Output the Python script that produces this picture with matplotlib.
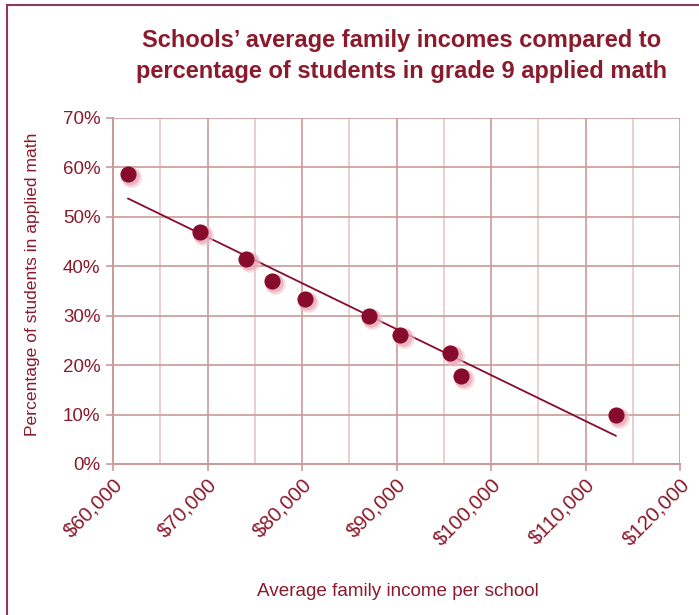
import matplotlib
matplotlib.use("Agg")
import matplotlib.pyplot as plt
from matplotlib.ticker import FuncFormatter, MultipleLocator
import numpy as np

income = [61600, 69200, 74100, 76800, 80300, 87100, 90400, 95700, 96800, 113200]
pct_applied = [58.7, 47.0, 41.5, 37.0, 33.4, 30.0, 26.1, 22.5, 17.8, 9.9]

title = "Schools\u2019 average family incomes compared to\npercentage of students in grade 9 applied math"
xlabel = "Average family income per school"
ylabel = "Percentage of students in applied math"

TXT = "#8a1a2c"
GRID = "#c99a9a"
GRID_MINOR = "#e6c8c8"
MARK = "#860b2c"

plt.rcParams['font.family'] = ['Liberation Sans', 'DejaVu Sans']

fig = plt.figure(figsize=(6.99, 6.15), dpi=100)
ax = fig.add_axes([113/699, 1-464/615, (680-113)/699, (464-118)/615])

ax.set_xlim(60000, 120000)
ax.set_ylim(0, 70)
ax.xaxis.set_major_locator(MultipleLocator(10000))
ax.xaxis.set_minor_locator(MultipleLocator(5000))
ax.yaxis.set_major_locator(MultipleLocator(10))
ax.xaxis.set_major_formatter(FuncFormatter(lambda v, p: f"${v:,.0f}"))
ax.yaxis.set_major_formatter(FuncFormatter(lambda v, p: f"{v:.0f}%"))

ax.grid(which='major', color=GRID, lw=1.2)
ax.grid(which='minor', axis='x', color=GRID_MINOR, lw=1.2)
ax.set_axisbelow(True)
for s in ['top', 'right']:
    ax.spines[s].set_visible(False)
for s in ['left', 'bottom']:
    ax.spines[s].set_color(GRID)
    ax.spines[s].set_linewidth(1.4)
ax.tick_params(which='both', color=GRID, length=5, width=1.2, labelcolor=TXT, labelsize=13.5)
ax.tick_params(axis='x', which='minor', length=0)
ax.tick_params(axis='x', labelsize=14.8, pad=3)
ax.tick_params(axis='y', pad=4)

for lab in ax.get_xticklabels():
    lab.set_rotation(45)
    lab.set_ha('right')
    lab.set_rotation_mode('anchor')

# trend line (least squares)
x = np.array(income, dtype=float)
y = np.array(pct_applied, dtype=float)
m, b = np.polyfit(x, y, 1)
xs = np.array([x.min(), x.max()])
ax.plot(xs, m*xs + b, color=MARK, lw=1.3, zorder=3)

# soft shadow + markers
ax.scatter(x + 350, y - 0.6, s=220, color="#f0c4cc", alpha=0.6, zorder=4, lw=0)
ax.scatter(x + 250, y - 0.45, s=170, color="#e3a0ae", alpha=0.6, zorder=4, lw=0)
ax.scatter(x, y, s=135, color=MARK, zorder=5, lw=0)

fig.text(402/699, 1-56/615, title, ha='center', va='center', fontsize=17,
         fontweight='bold', color=TXT, linespacing=1.45)
fig.text(398/699, 1-592/615, xlabel, ha='center', va='center', fontsize=13.6, color=TXT)
fig.text(33/699, 1-284/615, ylabel, ha='center', va='center', fontsize=12.6,
         color=TXT, rotation=90)

# frame border
fig.add_artist(plt.Line2D([7/699, 7/699], [0, 1-5/615], transform=fig.transFigure, color="#8a3a5a", lw=1.5))
fig.add_artist(plt.Line2D([7/699, 1], [1-5/615, 1-5/615], transform=fig.transFigure, color="#8a3a5a", lw=1.5))

fig.savefig("out.png", dpi=100)
